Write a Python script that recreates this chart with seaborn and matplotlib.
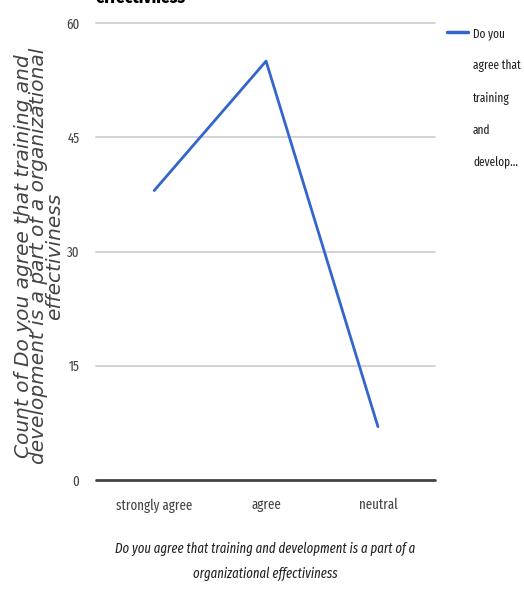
import matplotlib
matplotlib.use("Agg")
import matplotlib.pyplot as plt
import seaborn as sns
import pandas as pd
from matplotlib import font_manager

categories = ["strongly agree", "agree", "neutral"]
counts = [38, 55, 7]
series_lines = ["Do you", "agree that", "training", "and", "develop..."]
y_ticks = [0, 15, 30, 45, 60]
title_text = "effectivness"
x_title = "Do you agree that training and development is a part of a\norganizational effectiviness"
y_title = "Count of Do you agree that training and\ndevelopment is a part of a organizational\neffectiviness"

sns.set_theme(style="white")
names = {f.name for f in font_manager.fontManager.ttflist}
cond = next((n for n in ("Fira Sans Extra Condensed", "Roboto Condensed") if n in names),
            "Liberation Sans")
plt.rcParams['font.family'] = [cond, 'DejaVu Sans']

df = pd.DataFrame({"cat": categories, "count": counts})

W, H = 524, 600
fig = plt.figure(figsize=(W/100, H/100), dpi=100)
renderer = fig.canvas.get_renderer()


def fit_size(text, target_px, max_size, **kw):
    t = fig.text(0, 0, text, fontsize=10, **kw)
    w = t.get_window_extent(renderer).width
    t.remove()
    return min(10 * target_px / w, max_size)


tick_size = fit_size("strongly agree", 76, 13)
xlab_size = fit_size(x_title.split("\n")[0], 300, 13, style="italic")
leg_size = fit_size("agree that", 48, 13)
title_size = fit_size(title_text, 90, 16, fontweight="bold")

ax = fig.add_axes([96/W, 1-480/H, (435-96)/W, (480-23)/H])

sns.lineplot(data=df, x="cat", y="count", ax=ax, color="#3366cc", linewidth=2, sort=False, zorder=4)

ax.set_xlim(-0.52, 2.51)
ax.set_ylim(0, 60)
ax.set_yticks(y_ticks)
ax.set_yticklabels([str(v) for v in y_ticks])
for v in y_ticks[1:]:
    ax.axhline(v, color="#cccccc", linewidth=1.2, zorder=0, clip_on=False)
ax.axhline(0, color="#444444", linewidth=2, zorder=3, clip_on=False)
for s in ax.spines.values():
    s.set_visible(False)
ax.tick_params(axis="both", length=0, labelsize=tick_size, colors="#444444")
ax.tick_params(axis="y", pad=12)
ax.tick_params(axis="x", pad=13)

ax.set_xlabel(x_title, fontsize=xlab_size, style="italic", color="#222222", linespacing=1.9)
ax.xaxis.label.set_va("top")
ax.xaxis.set_label_coords(0.5, (480-542)/457)

ax.set_ylabel(y_title, fontsize=14.5, style="italic", color="#444444", linespacing=0.78,
              family=["DejaVu Sans"])
ax.yaxis.label.set_va("center")
ax.yaxis.set_label_coords((39-96)/339, 0.49)

fig.text(95/W, 1-3/H, title_text, fontsize=title_size, fontweight="bold", color="#000000",
         ha="left", va="baseline")

# legend
fig.add_artist(plt.Line2D([447/W, 468/W], [1-32/H, 1-32/H], color="#3366cc",
                          linewidth=2.5, transform=fig.transFigure))
for i, line in enumerate(series_lines):
    fig.text(473/W, 1-(32 + i*32.3)/H, line, fontsize=leg_size, color="#222222",
             ha="left", va="center_baseline")

fig.savefig("out.png", dpi=100)
